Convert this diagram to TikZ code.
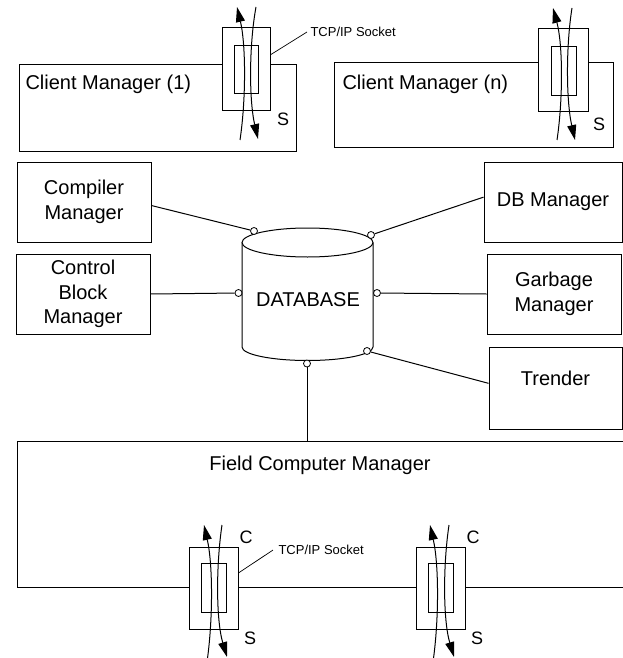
\documentclass[tikz,border=0pt]{standalone}
\usepackage{fontspec}
\setmainfont{Liberation Sans}
\usetikzlibrary{arrows.meta}
\begin{document}
\begin{tikzpicture}[x=1pt,y=-1pt,
  line width=1pt,
  box/.style={draw, rectangle, inner sep=0pt, fill=white, align=center, font=\fontsize{20}{24.5}\selectfont},
  sockbox/.style={draw, rectangle, inner sep=0pt, fill=white},
  lbl/.style={inner sep=0pt, font=\fontsize{20}{24}\selectfont},
  side/.style={inner sep=0pt, font=\fontsize{18}{20}\selectfont},
  small/.style={inner sep=0pt, font=\fontsize{13}{15}\selectfont},
  port/.style={draw, circle, fill=white, inner sep=0pt, minimum size=7pt, line width=0.8pt},
  flow/.style={-{Triangle[length=15pt,width=9pt]}},
]
\useasboundingbox (0,0) rectangle (623,658);

% ---------- Client managers ----------
\node[box, minimum width=277pt, minimum height=86pt] (cm1) at (157.5,108) {};
\node[lbl, anchor=base west] (cm1t) at (25,90) {Client Manager (1)};
\node[box, minimum width=279pt, minimum height=84pt] (cmn) at (473.5,105) {};
\node[lbl, anchor=base west] (cmnt) at (342,90) {Client Manager (n)};

% socket top 1
\node[sockbox, minimum width=48pt, minimum height=83pt] (sa) at (246,69.5) {};
\node[sockbox, minimum width=24pt, minimum height=48pt] (sai) at (246,70) {};
\coordinate (sa1) at (240,140); \coordinate (sa2) at (237,7);
\coordinate (sa3) at (256,7);   \coordinate (sa4) at (258,139);
\draw[flow] (sa1) .. controls (246,100) and (246,45) .. (sa2);
\draw[flow] (sa3) .. controls (249,45) and (249,100) .. (sa4);
\node[side] (saS) at (283,119) {S};
\node[small, anchor=west] (tcpa) at (310,32) {TCP/IP Socket};
\draw[line width=0.7pt] (sa.31) -- ([xshift=-3pt]tcpa.west);

% socket top n
\node[sockbox, minimum width=50pt, minimum height=83pt] (sn) at (563,70.5) {};
\node[sockbox, minimum width=25pt, minimum height=49pt] (sni) at (563.5,71.5) {};
\coordinate (sn1) at (557,140); \coordinate (sn2) at (553,8);
\coordinate (sn3) at (572,8);   \coordinate (sn4) at (575,140);
\draw[flow] (sn1) .. controls (563,100) and (563,45) .. (sn2);
\draw[flow] (sn3) .. controls (566,45) and (566,100) .. (sn4);
\node[side] (snS) at (599,124) {S};

% ---------- side managers ----------
\node[box, minimum width=134pt, minimum height=80pt] (comp) at (84,202) {Compiler\\Manager};
\node[box, minimum width=134pt, minimum height=80pt] (cbm) at (83,294) {Control\\Block\\Manager};
\node[box, minimum width=138pt, minimum height=80pt] (dbm) at (553,202) {DB Manager};
\node[box, minimum width=134pt, minimum height=80pt] (gm) at (554,294) {Garbage\\Manager};
\node[box, minimum width=133pt, minimum height=82pt] (tr) at (555.5,388) {};
\node[lbl] (trt) at (555.5,378) {Trender};

% ---------- database ----------
\draw[fill=white] (242,242.5) -- (242,347)
  arc[start angle=180, end angle=0, x radius=65.5, y radius=13.5]
  -- (373,242.5);
\draw[fill=white] (307.5,242.5) ellipse [x radius=65.5, y radius=14.5];
\node[lbl] (db) at (308,300) {DATABASE};

\node[port] (p1) at (254,231) {};
\node[port] (p2) at (371,235) {};
\node[port] (p3) at (238.5,293) {};
\node[port] (p4) at (377,293) {};
\node[port] (p5) at (367,351) {};
\node[port] (p6) at (307,363.5) {};

\draw (comp.-3) -- (p1);
\draw (dbm.176) -- (p2);
\draw (cbm.east) -- (p3);
\draw (gm.west) -- (p4);
\draw (tr.176) -- (p5);

% ---------- field computer manager ----------
\node[box, minimum width=623pt, minimum height=146pt] (fcm) at (328.5,514) {};
\node[lbl] (fcmt) at (320,465) {Field Computer Manager};
\draw (p6) -- (p6 |- fcm.north);

% bottom socket 1
\node[sockbox, minimum width=49pt, minimum height=82pt] (sb) at (213.5,588) {};
\node[sockbox, minimum width=25pt, minimum height=49pt] (sbi) at (213.5,587.5) {};
\coordinate (sb1) at (207,662); \coordinate (sb2) at (204,525);
\coordinate (sb3) at (222,525); \coordinate (sb4) at (227,657);
\draw[flow] (sb1) .. controls (213,620) and (213,565) .. (sb2);
\draw[flow] (sb3) .. controls (216,565) and (216,620) .. (sb4);
\node[side] (sbC) at (246,537) {C};
\node[side] (sbS) at (250,638) {S};
\node[small, anchor=west] (tcpb) at (278,550) {TCP/IP Socket};
\draw[line width=0.7pt] (sb.31) -- ([xshift=-5pt]tcpb.west);

% bottom socket 2
\node[sockbox, minimum width=49pt, minimum height=82pt] (sc) at (440.5,588) {};
\node[sockbox, minimum width=25pt, minimum height=49pt] (sci) at (440.5,587.5) {};
\coordinate (sc1) at (433,662); \coordinate (sc2) at (430,525);
\coordinate (sc3) at (449,525); \coordinate (sc4) at (454,657);
\draw[flow] (sc1) .. controls (439,620) and (439,565) .. (sc2);
\draw[flow] (sc3) .. controls (443,565) and (443,620) .. (sc4);
\node[side] (scC) at (473,537) {C};
\node[side] (scS) at (477,638) {S};
\end{tikzpicture}
\end{document}
